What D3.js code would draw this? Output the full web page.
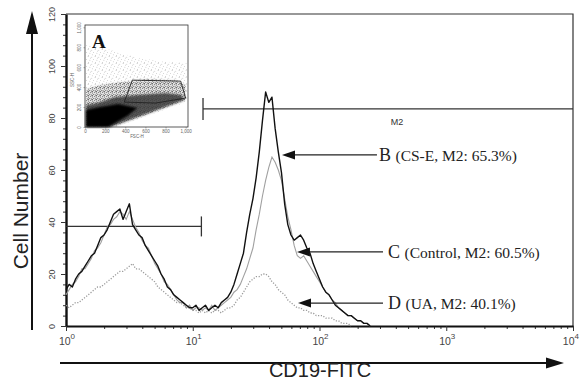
<!DOCTYPE html>
<html>
<head>
<meta charset="utf-8">
<script src="https://cdn.jsdelivr.net/npm/d3@7"></script>
<style>
  body { margin: 0; background: #fff; }
  svg { display: block; }
</style>
</head>
<body>
<div id="chart"></div>
<script>
// Histogram counts, one value per log channel (40 channels per decade, starting at 10^0)
var csE = [14,16,15,18,20,21,23,25,27,28, 31,34,35,37,40,43,44,45,41,44,
           47,39,37,35,34,31,29,27,25,23, 20,18,15,14,12,11,10,9,8,7,
           7,8,6,7,8,6,7,8,7,9, 10,11,13,16,20,24,28,36,43,49,
           57,67,79,90,86,88,76,67,59,47, 39,35,33,34,35,33,30,28,24,21,
           18,15,13,12,10,8,7,6,5,4, 4,3,2,2,1,1,0];
var control = [12,14,16,17,19,22,22,24,26,29, 30,32,35,38,39,41,42,44,43,41,
               44,41,38,36,33,31,30,27,24,22, 20,17,16,14,12,10,9,9,7,8,
               6,7,7,6,7,6,8,6,7,8, 9,10,11,13,14,16,19,22,26,30,
               37,43,50,56,61,65,63,60,56,49, 42,37,31,27,26,27,25,23,21,19,
               17,15,13,12,10,9,7,6,5,4, 4,3,2,2,1,1,0];
var ua = [8,7,8,9,9,10,11,12,13,14, 15,15,16,17,18,19,20,21,21,22,
          23,24,22,22,21,20,19,18,17,15, 14,13,12,11,10,9,9,8,7,7,
          6,6,5,6,5,6,5,6,6,5, 6,7,7,8,10,11,13,15,17,18,
          19,19,20,20,19,17,16,14,13,12, 10,9,8,7,7,6,6,5,5,4,
          4,4,3,3,3,2,2,1,1,1, 0];
var channelsPerDecade = 40;

// Gate markers: [from, to] in FITC units and the count level they sit at
var markerNames = ['M1', 'M2'];
var markerRanges = [[1, 11.7], [12.05, 10000]];
var markerLevels = [38.3, 83.5];

// Annotations: arrow tip (FITC, count) and arrow tail FITC
var noteLetters = ['B', 'C', 'D'];
var noteTexts = ['(CS-E, M2: 65.3%)', '(Control, M2: 60.5%)', '(UA, M2: 40.1%)'];
var noteTips = [[50.6, 65.8], [66.4, 28.5], [67.7, 8.8]];
var noteTails = [284, 317, 317];

var yTicks = [0, 20, 40, 60, 80, 100, 120];
var xDecades = [0, 1, 2, 3, 4];

// Inset A: FSC-H / SSC-H dot plot, drawn as density regions (channel units 0-1023)
var insetTicks = [0, 200, 400, 600, 800, 1000];
var insetSparse = [[10,0],[10,820],[150,800],[300,760],[500,700],[750,660],[1010,640],[1010,250],[700,140],[300,0]];
var insetMedium = [[10,0],[10,380],[150,420],[350,450],[600,480],[900,470],[1000,420],[995,270],[600,120],[250,0]];
var insetDark = [[10,0],[10,220],[120,240],[300,300],[520,320],[800,340],[960,320],[985,270],[248,0]];
var insetCore = [[10,0],[10,170],[150,200],[330,230],[520,190],[420,110],[230,0]];
var insetGate = [[390,250],[470,470],[950,460],[1000,290],[700,240]];

var svg = d3.select('#chart').append('svg')
    .attr('width', 580)
    .attr('height', 382);

var x = d3.scaleLog().domain([1, 1e4]).range([66, 573]);
var y = d3.scaleLinear().domain([0, 120]).range([326, 14]);

var fitcOf = function(i) { return Math.pow(10, i / channelsPerDecade); };

// frame (top and right)
svg.append('path')
    .attr('d', 'M' + x(1) + ',' + y(120) + 'H' + x(1e4) + 'V' + y(0))
    .attr('fill', 'none')
    .attr('stroke', '#333')
    .attr('stroke-width', 1.2);

// y axis
var yMinor = d3.range(0, 121, 4).filter(function(v) { return v % 20 !== 0; });
svg.append('g')
    .attr('transform', 'translate(' + x(1) + ',0)')
    .call(d3.axisLeft(y).tickValues(yMinor).tickSize(3).tickFormat(''))
    .call(function(g) { g.select('.domain').remove(); g.selectAll('line').attr('stroke', '#333'); });
var yAxis = svg.append('g')
    .attr('transform', 'translate(' + x(1) + ',0)')
    .call(d3.axisLeft(y).tickValues(yTicks).tickSize(5).tickSizeOuter(0));
yAxis.select('.domain').attr('stroke', '#111').attr('stroke-width', 2.4);
yAxis.selectAll('line').attr('stroke', '#333');
yAxis.selectAll('text')
    .attr('x', null).attr('dy', null)
    .attr('transform', 'translate(-11,0) rotate(-90)')
    .attr('text-anchor', 'middle')
    .attr('font-family', 'Liberation Sans, Arial, sans-serif')
    .attr('font-size', 9)
    .attr('fill', '#444');

// x axis
var xMinor = [];
xDecades.slice(0, 4).forEach(function(d) {
    for (var k = 2; k < 10; k++) xMinor.push(k * Math.pow(10, d));
});
svg.append('g')
    .attr('transform', 'translate(0,' + y(0) + ')')
    .call(d3.axisBottom(x).tickValues(xMinor).tickSize(3).tickFormat(''))
    .call(function(g) { g.select('.domain').remove(); g.selectAll('line').attr('stroke', '#333'); });
var xAxis = svg.append('g')
    .attr('transform', 'translate(0,' + y(0) + ')')
    .call(d3.axisBottom(x).tickValues(xDecades.map(function(d) { return Math.pow(10, d); }))
        .tickSize(5).tickSizeOuter(0).tickFormat(''));
xAxis.select('.domain').attr('stroke', '#111').attr('stroke-width', 2);
xAxis.selectAll('line').attr('stroke', '#333');

var xLabels = svg.append('g')
    .attr('font-family', 'Liberation Sans, Arial, sans-serif')
    .attr('fill', '#444');
xDecades.forEach(function(d, i) {
    var last = i === xDecades.length - 1;
    var t = xLabels.append('text')
        .attr('x', last ? 579 : x(Math.pow(10, d)) + 1)
        .attr('y', 345)
        .attr('text-anchor', last ? 'end' : 'middle')
        .attr('font-size', 10.5)
        .text('10');
    t.append('tspan').attr('dy', -6).attr('font-size', 8).text(d);
});

// axis arrows and titles
svg.append('line').attr('x1', 32).attr('x2', 32).attr('y1', 330).attr('y2', 28)
    .attr('stroke', '#111').attr('stroke-width', 2);
svg.append('path').attr('d', 'M32,11L38,34L26,34Z').attr('fill', '#111');
svg.append('line').attr('x1', 60).attr('x2', 550).attr('y1', 363).attr('y2', 363)
    .attr('stroke', '#111').attr('stroke-width', 2);
svg.append('path').attr('d', 'M564,363L546,357.5L546,368.5Z').attr('fill', '#111');

svg.append('text')
    .attr('transform', 'translate(28,211) rotate(-90)')
    .attr('text-anchor', 'middle')
    .attr('font-family', 'Liberation Sans, Arial, sans-serif')
    .attr('font-size', 21)
    .attr('fill', '#222')
    .text('Cell Number');
svg.append('text')
    .attr('x', 320).attr('y', 377)
    .attr('text-anchor', 'middle')
    .attr('font-family', 'Liberation Sans, Arial, sans-serif')
    .attr('font-size', 20)
    .attr('fill', '#222')
    .text('CD19-FITC');

// markers
markerNames.forEach(function(name, i) {
    var g = svg.append('g').attr('stroke', '#333').attr('stroke-width', 1.3);
    var x0 = x(markerRanges[i][0]), x1 = x(markerRanges[i][1]), yy = y(markerLevels[i]);
    g.append('line').attr('x1', x0).attr('x2', x1).attr('y1', yy).attr('y2', yy);
    if (i === 0) {
        g.append('line').attr('x1', x1).attr('x2', x1).attr('y1', yy - 10).attr('y2', yy + 10);
    } else {
        g.append('line').attr('x1', x0).attr('x2', x0).attr('y1', yy - 11).attr('y2', yy + 11);
        svg.append('text')
            .attr('x', (x0 + x1) / 2 + 9).attr('y', yy + 16)
            .attr('text-anchor', 'middle')
            .attr('font-family', 'Liberation Sans, Arial, sans-serif')
            .attr('font-size', 9)
            .attr('fill', '#333')
            .text(name);
    }
});

// histograms
var line = d3.line()
    .x(function(d, i) { return x(fitcOf(i)); })
    .y(function(d) { return y(d); });

svg.append('path').datum(ua).attr('d', line)
    .attr('fill', 'none').attr('stroke', '#9a9a9a').attr('stroke-width', 1.3)
    .attr('stroke-dasharray', '1.2,1.6');
svg.append('path').datum(control).attr('d', line)
    .attr('fill', 'none').attr('stroke', '#a0a0a0').attr('stroke-width', 1.1);
svg.append('path').datum(csE).attr('d', line)
    .attr('fill', 'none').attr('stroke', '#111').attr('stroke-width', 1.4)
    .attr('stroke-linejoin', 'round');

// annotations
noteLetters.forEach(function(letter, i) {
    var tx = x(noteTips[i][0]), ty = y(noteTips[i][1]), tail = x(noteTails[i]);
    svg.append('line').attr('x1', tx + 10).attr('x2', tail).attr('y1', ty).attr('y2', ty)
        .attr('stroke', '#222').attr('stroke-width', 1.3);
    svg.append('path')
        .attr('d', 'M' + tx + ',' + ty + 'L' + (tx + 13) + ',' + (ty - 4.5) + 'L' + (tx + 13) + ',' + (ty + 4.5) + 'Z')
        .attr('fill', '#111');
    var t = svg.append('text')
        .attr('x', tail + (i === 0 ? 2 : 5)).attr('y', ty + 6)
        .attr('font-family', 'Liberation Serif, Times New Roman, serif')
        .attr('fill', '#222');
    t.append('tspan').attr('font-size', 18).text(letter + ' ');
    t.append('tspan').attr('font-size', 15.5).text(noteTexts[i]);
});

// inset A
var ix = d3.scaleLinear().domain([0, 1023]).range([85, 188]);
var iy = d3.scaleLinear().domain([0, 1023]).range([127, 25]);
var inset = svg.append('g');
var defs = svg.append('defs');
var pat = defs.append('pattern').attr('id', 'speckle').attr('width', 7).attr('height', 7)
    .attr('patternUnits', 'userSpaceOnUse');
[[0.8, 1.2], [4.1, 0.5], [2.6, 3.3], [5.9, 4.2], [1.3, 5.8], [4.6, 6.4], [6.5, 2.1]].forEach(function(p) {
    pat.append('circle').attr('cx', p[0]).attr('cy', p[1]).attr('r', 0.4).attr('fill', '#8a8a8a');
});
var patDense = defs.append('pattern').attr('id', 'speckleDense').attr('width', 4).attr('height', 4)
    .attr('patternUnits', 'userSpaceOnUse');
[[0.6, 0.9], [2.7, 0.3], [1.8, 2.4], [3.5, 3.1], [0.4, 3.6]].forEach(function(p) {
    patDense.append('circle').attr('cx', p[0]).attr('cy', p[1]).attr('r', 0.5).attr('fill', '#444');
});
defs.append('filter').attr('id', 'soft').append('feGaussianBlur').attr('stdDeviation', 1.1);

inset.append('rect').attr('x', ix(0)).attr('y', iy(1023))
    .attr('width', ix(1023) - ix(0)).attr('height', iy(0) - iy(1023)).attr('fill', '#fff');
var poly = d3.line().x(function(d) { return ix(d[0]); }).y(function(d) { return iy(d[1]); })
    .curve(d3.curveLinearClosed);
inset.append('path').datum(insetSparse).attr('d', poly).attr('fill', 'url(#speckle)');
inset.append('path').datum(insetMedium).attr('d', poly).attr('fill', '#c4c4c4').attr('opacity', 0.45)
    .attr('filter', 'url(#soft)');
inset.append('path').datum(insetMedium).attr('d', poly).attr('fill', 'url(#speckleDense)');
inset.append('path').datum(insetDark).attr('d', poly).attr('fill', '#3a3a3a').attr('opacity', 0.85)
    .attr('filter', 'url(#soft)');
inset.append('path').datum(insetCore).attr('d', poly).attr('fill', '#050505').attr('filter', 'url(#soft)');
inset.append('path').datum(insetGate).attr('d', poly).attr('fill', 'none')
    .attr('stroke', '#222').attr('stroke-width', 0.9);
inset.append('rect').attr('x', ix(0)).attr('y', iy(1023))
    .attr('width', ix(1023) - ix(0)).attr('height', iy(0) - iy(1023))
    .attr('fill', 'none').attr('stroke', '#333').attr('stroke-width', 0.8);

var ixAxis = inset.append('g').attr('transform', 'translate(0,' + iy(0) + ')')
    .call(d3.axisBottom(ix).tickValues(insetTicks).tickSize(1.5).tickPadding(1));
var iyAxis = inset.append('g').attr('transform', 'translate(' + ix(0) + ',0)')
    .call(d3.axisLeft(iy).tickValues(insetTicks).tickSize(1.5).tickPadding(1));
[ixAxis, iyAxis].forEach(function(g) {
    g.select('.domain').remove();
    g.selectAll('line').attr('stroke', '#555').attr('stroke-width', 0.5);
    g.selectAll('text').attr('font-size', 4.5).attr('fill', '#666')
        .attr('font-family', 'Liberation Sans, Arial, sans-serif');
});
iyAxis.selectAll('text').attr('x', null).attr('dy', null)
    .attr('transform', 'translate(-4,0) rotate(-90)').attr('text-anchor', 'middle');
inset.append('text').attr('x', 137).attr('y', 138).attr('text-anchor', 'middle')
    .attr('font-size', 4.5).attr('fill', '#666').attr('font-family', 'Liberation Sans, Arial, sans-serif')
    .text('FSC-H');
inset.append('text').attr('transform', 'translate(74,80) rotate(-90)').attr('text-anchor', 'middle')
    .attr('font-size', 4.5).attr('fill', '#666').attr('font-family', 'Liberation Sans, Arial, sans-serif')
    .text('SSC-H');
inset.append('text').attr('x', 92).attr('y', 48)
    .attr('font-family', 'Liberation Serif, Times New Roman, serif')
    .attr('font-weight', 'bold').attr('font-size', 19).attr('fill', '#111')
    .text('A');
</script>
</body>
</html>
